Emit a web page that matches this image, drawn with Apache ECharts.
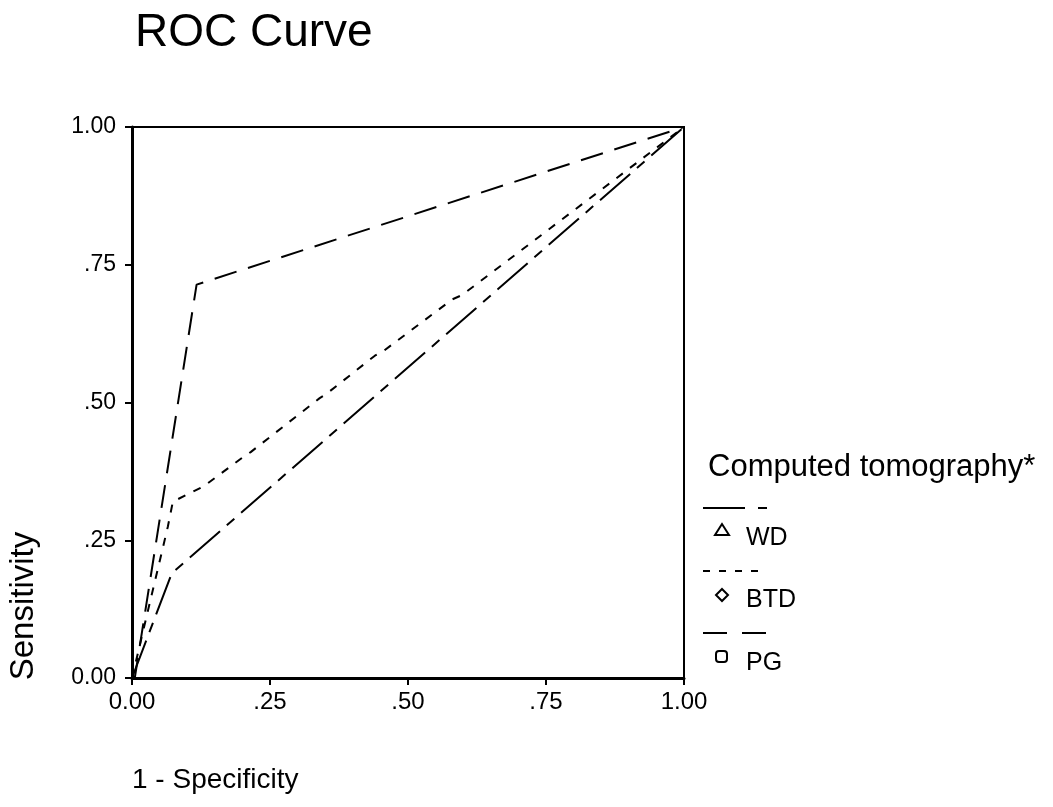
<!DOCTYPE html>
<html>
<head>
<meta charset="utf-8">
<title>ROC Curve</title>
<script src="https://cdn.jsdelivr.net/npm/echarts@6/dist/echarts.min.js"></script>
<style>
  html, body { margin: 0; padding: 0; background: #fff; }
  #chart { width: 1053px; height: 807px; }
</style>
</head>
<body>
<div id="chart"></div>
<script>
// 1 - specificity / sensitivity pairs
const wdX = [0, 0.072, 1];
const wdY = [0, 0.19, 1];
const btdX = [0, 0.065, 0.074, 0.13, 0.2, 0.215, 0.34, 0.354, 0.44, 0.455, 0.58, 0.598, 1];
const btdY = [0, 0.275, 0.32, 0.348, 0.4, 0.41, 0.508, 0.517, 0.585, 0.593, 0.687, 0.695, 1];
const pgX = [0, 0.005, 0.117, 1];
const pgY = [0, 0, 0.714, 1];

const tickLabels = { 0: "0.00", 0.25: ".25", 0.5: ".50", 0.75: ".75", 1: "1.00" };
const seriesNames = ["WD", "BTD", "PG"];

const font = "'Liberation Sans', Arial, sans-serif";

function pairs(xs, ys) {
  return xs.map((x, i) => [x, ys[i]]);
}

const chart = echarts.init(document.getElementById("chart"));

const dashes = {
  WD: [40, 9, 10, 9],
  BTD: [8, 9],
  PG: [23, 12],
};

let option = {
  backgroundColor: "#fff",
  animation: false,
  title: {
    text: "ROC Curve",
    left: 130,
    top: 5,
    textStyle: { fontFamily: font, fontSize: 46, fontWeight: "normal", color: "#000" },
  },
  grid: {
    left: 132,
    top: 127,
    width: 552,
    height: 551,
    show: true,
    borderColor: "#000",
    borderWidth: 2,
  },
  xAxis: {
    type: "value",
    min: 0,
    max: 1,
    interval: 0.25,
    axisLine: { lineStyle: { color: "#000", width: 3 } },
    axisTick: { lineStyle: { color: "#000", width: 2 }, length: 7 },
    splitLine: { show: false },
    axisLabel: {
      color: "#000",
      fontFamily: font,
      fontSize: 24,
      margin: 12,
      formatter: (v) => tickLabels[v],
    },
  },
  yAxis: {
    type: "value",
    min: 0,
    max: 1,
    interval: 0.25,
    axisLine: { show: true, lineStyle: { color: "#000", width: 3 } },
    axisTick: { show: true, lineStyle: { color: "#000", width: 2 }, length: 7 },
    splitLine: { show: false },
    axisLabel: {
      color: "#000",
      fontFamily: font,
      fontSize: 23,
      margin: 16,
      formatter: (v) => tickLabels[v],
    },
  },
  series: [
    { name: "WD", data: pairs(wdX, wdY) },
    { name: "BTD", data: pairs(btdX, btdY) },
    { name: "PG", data: pairs(pgX, pgY) },
  ].map((s) => ({
    name: s.name,
    type: "line",
    data: s.data,
    showSymbol: false,
    silent: true,
    lineStyle: { color: "#000", width: 2, type: dashes[s.name] },
  })),
  graphic: [
    // axis titles
    {
      type: "text",
      left: 132,
      top: 766,
      style: { text: "1 - Specificity", font: "28px " + font, fill: "#000" },
    },
    {
      type: "text",
      x: 24,
      y: 606,
      rotation: Math.PI / 2,
      style: {
        text: "Sensitivity",
        font: "33px " + font,
        fill: "#000",
        align: "center",
        verticalAlign: "middle",
      },
    },
    // legend
    {
      type: "text",
      x: 708,
      y: 467,
      style: { text: "Computed tomography*", font: "31px " + font, fill: "#000", verticalAlign: "middle" },
    },
  ],
};

// legend samples: dash line above, hollow marker + label below
const legendRows = [
  { name: "WD", lineY: 508, markY: 530, textY: 538, symbol: "triangle" },
  { name: "BTD", lineY: 571, markY: 595, textY: 600, symbol: "diamond" },
  { name: "PG", lineY: 633, markY: 657, textY: 663, symbol: "square" },
];
legendRows.forEach((r) => {
  option.graphic.push({
    type: "line",
    shape: { x1: 703, y1: r.lineY, x2: 767, y2: r.lineY },
    style: { stroke: "#000", lineWidth: 2, lineDash: r.name === "WD" ? [42, 13, 9, 40] : r.name === "BTD" ? [7, 9] : [24, 15] },
  });
  let mark;
  if (r.symbol === "triangle") {
    mark = { type: "polygon", shape: { points: [[722, r.markY - 6], [715, r.markY + 5], [729, r.markY + 5]] } };
  } else if (r.symbol === "diamond") {
    mark = { type: "polygon", shape: { points: [[722, r.markY - 6], [728, r.markY], [722, r.markY + 6], [716, r.markY]] } };
  } else {
    mark = { type: "rect", shape: { x: 716, y: r.markY - 6, width: 11, height: 11, r: 3 } };
  }
  mark.style = { fill: "none", stroke: "#000", lineWidth: 2 };
  option.graphic.push(mark);
  option.graphic.push({
    type: "text",
    x: 746,
    y: r.textY,
    style: { text: r.name, font: "25px " + font, fill: "#000", verticalAlign: "middle" },
  });
});

chart.setOption(option);
</script>
</body>
</html>
